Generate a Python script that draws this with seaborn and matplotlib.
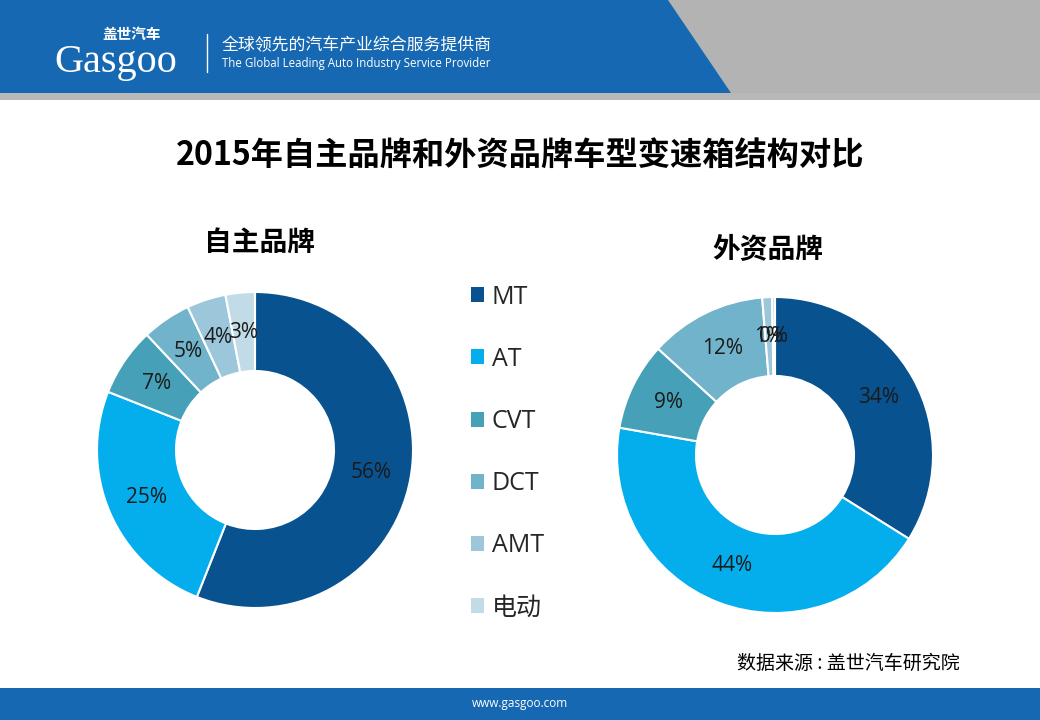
import numpy as np
import matplotlib
matplotlib.use("Agg")
import matplotlib.pyplot as plt
from matplotlib.patches import Polygon, Rectangle
import seaborn as sns

# ---- data ----
categories = ["MT", "AT", "CVT", "DCT", "AMT", "电动"]
domestic_values = [56, 25, 7, 5, 4, 3]
foreign_values = [34, 44, 9, 12, 1, 0.3]
chart_title = "2015年自主品牌和外资品牌车型变速箱结构对比"
pie_titles = ["自主品牌", "外资品牌"]
source_text = "数据来源 : 盖世汽车研究院"

sns.set_theme(style="white")
plt.rcParams['font.family'] = ['Open Sans', 'Noto Sans CJK SC', 'DejaVu Sans']
CJK = ['Noto Sans CJK SC', 'DejaVu Sans']

colors = sns.color_palette(["#08528f", "#04aeed", "#45a0b8", "#71b3cb", "#9cc7da", "#c2dce7"])

W, H = 1040, 720
fig = plt.figure(figsize=(W / 100, H / 100), dpi=100)
fig.patch.set_facecolor("white")

# background / decoration axes in pixel coordinates
bg = fig.add_axes([0, 0, 1, 1])
bg.set_xlim(0, W)
bg.set_ylim(H, 0)
bg.axis("off")
bg.add_patch(Rectangle((0, 0), W, 100, facecolor="#b3b3b3", edgecolor="none"))
bg.add_patch(Polygon([(0, 0), (668, 0), (731, 93), (0, 93)], closed=True,
                     facecolor="#1668b3", edgecolor="none"))
bg.add_patch(Rectangle((0, 93), W, 7, facecolor="#b8b8b8", edgecolor="none"))
# logo
bg.text(54, 72, "Gasgoo", color="white", fontsize=29, family=['Liberation Serif', 'DejaVu Serif'],
        va="baseline", ha="left")
bg.text(102, 34, "盖世汽车", color="white", fontsize=10.5, family=CJK,
        va="center", ha="left", weight="bold")
bg.plot([207, 207], [34, 72], color="white", lw=1)
bg.text(222, 45, "全球领先的汽车产业综合服务提供商", color="white", fontsize=12.2,
        family=CJK, va="center", ha="left")
bg.text(222, 64, "The Global Leading Auto Industry Service Provider", color="white",
        fontsize=8.3, va="center", ha="left")
# footer
bg.add_patch(Rectangle((0, 688), W, 32, facecolor="#1668b3", edgecolor="none"))
bg.text(520, 703, "www.gasgoo.com", color="white", fontsize=8.5, ha="center", va="center")

# titles
bg.text(520, 155, chart_title, fontsize=23.2, weight="bold", family=CJK,
        ha="center", va="center", color="black")
bg.text(260, 243, pie_titles[0], fontsize=20, weight="bold", family=CJK,
        ha="center", va="center", color="black")
bg.text(768, 250, pie_titles[1], fontsize=20, weight="bold", family=CJK,
        ha="center", va="center", color="black")
bg.text(960, 663, source_text, fontsize=13.7, family=CJK, ha="right", va="center",
        color="black")


def donut(cx, cy, r, values):
    ax = fig.add_axes([(cx - r) / W, (H - cy - r) / H, 2 * r / W, 2 * r / H])
    wedges, texts, autotexts = ax.pie(
        values, colors=colors, startangle=90, counterclock=False, radius=1,
        autopct=lambda p: f"{p:.0f}%", pctdistance=0.75,
        wedgeprops=dict(width=0.5, edgecolor="white", linewidth=1.5),
        textprops=dict(fontsize=15, color="#1a1a1a"))
    ax.set_xlim(-1.0, 1.0)
    ax.set_ylim(-1.0, 1.0)
    ax.set_aspect("equal")
    ax.axis("off")
    return wedges


wl = donut(255, 450, 158, domestic_values)
donut(775, 455, 158, foreign_values)

leg = fig.legend(wl, categories, loc="upper left",
                 bbox_to_anchor=(458 / W, 1 - 272 / H), frameon=False,
                 fontsize=18, handlelength=0.55, handleheight=0.55,
                 handletextpad=0.3, labelspacing=1.49, borderpad=0)
for t in leg.get_texts():
    t.set_family(['Open Sans', 'Noto Sans CJK SC'])
for h in leg.legend_handles:
    h.set_edgecolor("none")

fig.savefig("out.png", dpi=100)
